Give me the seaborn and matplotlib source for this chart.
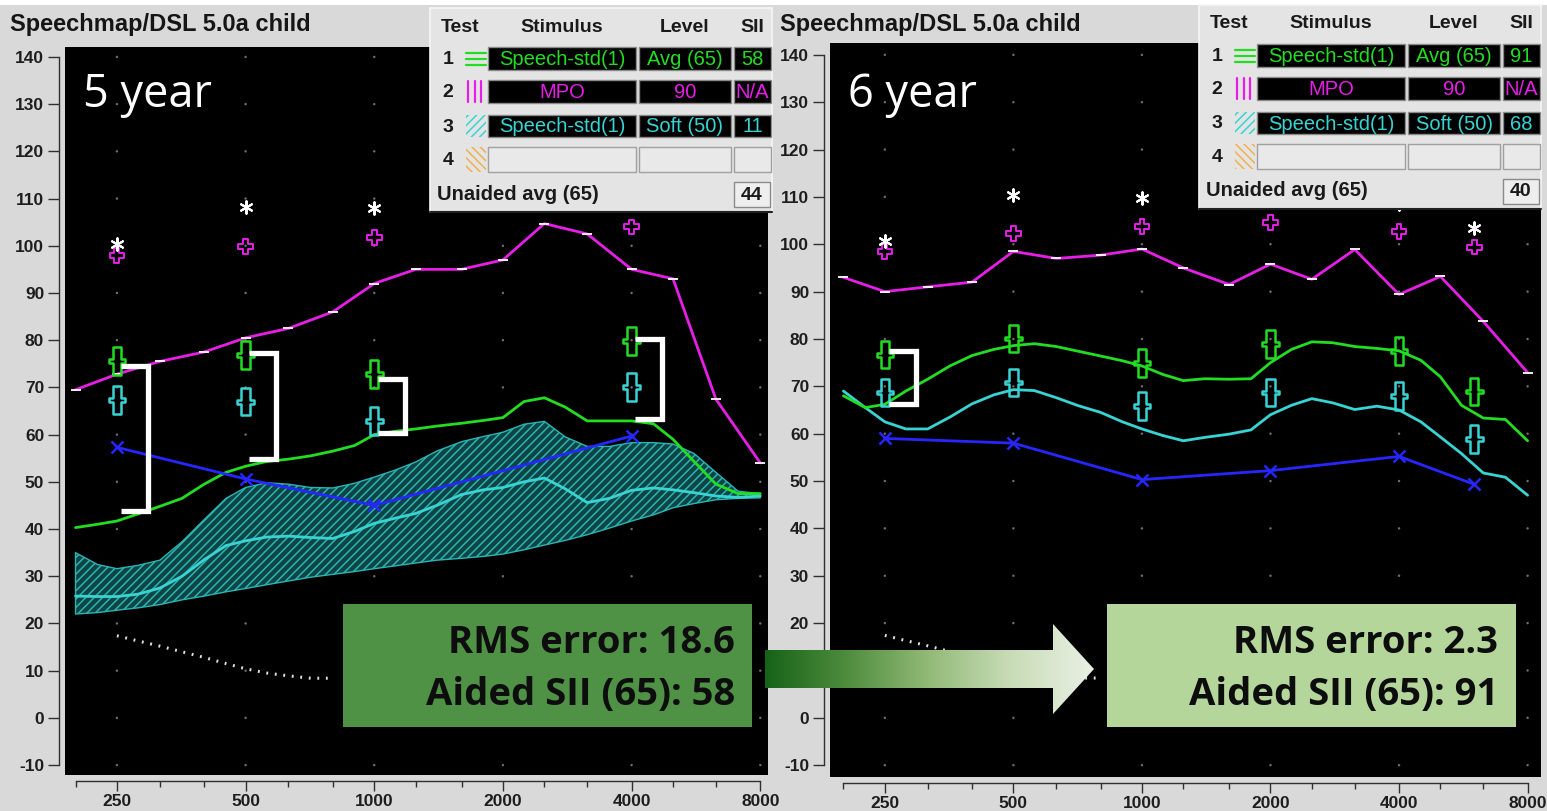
import numpy as np
import matplotlib
matplotlib.use("Agg")
import matplotlib.pyplot as plt
from matplotlib.path import Path
from matplotlib.patches import Rectangle, Polygon
from matplotlib.colors import LinearSegmentedColormap
from matplotlib.ticker import FixedLocator, FixedFormatter, NullFormatter
import seaborn as sns

# ---------------- frequency grids (Hz) ----------------
sixth_oct = [200, 225, 250, 280, 315, 355, 400, 450, 500, 560, 630, 710, 800, 900,
             1000, 1120, 1250, 1400, 1600, 1800, 2000, 2240, 2500, 2800, 3150, 3550,
             4000, 4500, 5000, 5600, 6300, 7100, 8000]
third_oct = [200, 250, 315, 400, 500, 630, 800, 1000, 1250, 1600, 2000, 2500, 3150,
             4000, 5000, 6300, 8000]
octave_ticks = [250, 500, 1000, 2000, 4000, 8000]
db_ticks = list(range(-10, 150, 10))

# ---------------- 5 year session (dB SPL) ----------------
mpo_5 = [69.5, 72.8, 75.5, 77.5, 80.5, 82.5, 86, 92, 95, 95, 97, 104.7, 102.5,
         95, 93, 67.5, 54]
aided65_5 = [40.3, 41, 41.7, 43.2, 44.8, 46.5, 49.5, 52, 53.3, 54.3, 54.8, 55.5, 56.5,
             57.7, 60, 60.7, 61.2, 61.8, 62.4, 63, 63.6, 67, 67.8, 65.8, 62.9, 62.9,
             62.9, 62.3, 59, 54.3, 49.5, 47.5, 47.5]
soft50_5 = [25.8, 25.7, 25.7, 26.2, 27.5, 30, 33.5, 36.5, 37.5, 38.3, 38.5, 38.2, 38,
            39.5, 41.2, 42.3, 43.3, 45, 47.3, 48.3, 48.8, 50, 50.8, 48.5, 45.6, 46.5,
            48.2, 48.7, 48.3, 47.7, 47, 46.7, 47]
soft50_hi_5 = [35, 32.5, 31.6, 32.3, 33.4, 37.3, 42, 46.5, 48.8, 49.8, 49.5, 48.8, 48.7,
               49.7, 51, 52.5, 54.2, 56.5, 58.5, 59.6, 60.5, 62.2, 62.8, 59.5, 57.5,
               57.5, 58.3, 58.3, 58, 56, 52, 48, 47.5]
soft50_lo_5 = [22, 22.3, 22.8, 23.3, 24, 25, 25.8, 26.7, 27.4, 28.2, 29, 29.8, 30.4,
               31, 31.6, 32.2, 32.8, 33.4, 33.8, 34.2, 34.7, 35.6, 36.6, 37.6, 38.8,
               40.2, 41.7, 43, 44.5, 45.4, 46.2, 46.5, 46.6]
thr_freq_5 = [250, 500, 1000, 4000]
thr_5 = [57.3, 50.6, 45, 59.7]
tgt_freq_5 = [250, 500, 1000, 4000]
tgt_avg_5 = [75.6, 76.9, 72.9, 79.9]
tgt_soft_5 = [67.4, 67.0, 62.9, 70.1]
tgt_mpo_5 = [97.9, 99.8, 101.7, 104.0]
ucl_freq_5 = [250, 500, 1000]
ucl_5 = [100.4, 108.3, 108.0]
gap_freq_5 = [250, 500, 1000, 4000]
gap_top_5 = [74.6, 77.3, 71.8, 80.3]
gap_bot_5 = [43.9, 54.9, 60.4, 63.3]

# ---------------- 6 year session (dB SPL) ----------------
mpo_6 = [93, 90, 91, 92, 98.5, 97, 97.7, 99, 95, 91.5, 95.8, 92.6, 98.9, 89.4,
         93.2, 83.7, 72.9]
aided65_6 = [68, 65.5, 66.2, 69, 71.5, 74.3, 76.5, 77.8, 78.6, 79, 78.4, 77.4, 76.4,
             75.4, 74.3, 72.5, 71.2, 71.6, 71.5, 71.6, 75, 77.8, 79.4, 79.2, 78.4, 78,
             77.5, 75.5, 72, 66, 63.3, 63, 58.5]
soft50_6 = [69, 65.5, 62.5, 61, 61, 63.5, 66.3, 68.2, 69.3, 69.1, 67.6, 65.9, 64.5,
            62.5, 61, 59.6, 58.5, 59.2, 59.9, 60.8, 64, 66, 67.4, 66.5, 65.1, 65.8,
            65, 62.5, 59.3, 55.8, 51.7, 50.8, 47]
thr_freq_6 = [250, 500, 1000, 2000, 4000, 6000]
thr_6 = [59, 58, 50.3, 52.2, 55.2, 49.3]
tgt_freq_6 = [250, 500, 1000, 2000, 4000, 6000]
tgt_avg_6 = [76.7, 80.1, 75.0, 78.9, 77.4, 68.9]
tgt_soft_6 = [68.7, 70.8, 65.8, 68.7, 67.9, 58.8]
tgt_mpo_6 = [98.5, 102.3, 103.8, 104.6, 102.7, 99.4]
ucl_freq_6 = [250, 500, 1000, 4000, 6000]
ucl_6 = [100.6, 110.4, 109.7, 108.6, 103.4]
gap_freq_6 = [250]
gap_top_6 = [77.4]
gap_bot_6 = [66.2]

# normal-hearing threshold curve
normal_freq = [250, 280, 315, 355, 400, 450, 500, 560, 630, 710, 800]
normal_thr = [17.4, 16.3, 15.2, 14.0, 12.8, 11.5, 10.4, 9.5, 8.9, 8.4, 8.4]

# ---------------- test table ----------------
test_no = ["1", "2", "3", "4"]
stimulus = ["Speech-std(1)", "MPO", "Speech-std(1)", ""]
levels = ["Avg (65)", "90", "Soft (50)", ""]
sii_5 = ["58", "N/A", "11", ""]
sii_6 = ["91", "N/A", "68", ""]
unaided_5 = "44"
unaided_6 = "40"
rms_5, rms_6 = 18.6, 2.3
aided_sii_5, aided_sii_6 = 58, 91
titles = ["5 year", "6 year"]

# ---------------- style ----------------
sns.set_theme(style="dark")
plt.rcParams["font.family"] = ["Liberation Sans", "DejaVu Sans"]
plt.rcParams["hatch.linewidth"] = 1.1

GREEN = "#22dd22"
CYAN = "#38d4d4"
MAGENTA = "#e61ee6"
BLUE = "#2626ff"
ROW_COLORS = [GREEN, MAGENTA, CYAN, "#f0b050"]

W, H = 1547, 811
fig = plt.figure(figsize=(W / 100, H / 100), dpi=100, facecolor="#d9d9d9")


def px_axes(l, r, t, b, **kw):
    return fig.add_axes([l / W, 1 - b / H, (r - l) / W, (b - t) / H], **kw)


# outlined tall cross used for the speech targets
_tv = [(-0.15, 0.5), (0.15, 0.5), (0.15, 0.07), (0.3, 0.07), (0.3, -0.07),
       (0.15, -0.07), (0.15, -0.5), (-0.15, -0.5), (-0.15, -0.07), (-0.3, -0.07),
       (-0.3, 0.07), (-0.15, 0.07), (-0.15, 0.5)]
target_marker = Path(_tv, [Path.MOVETO] + [Path.LINETO] * 11 + [Path.CLOSEPOLY])


def draw_panel(ax, xlim, ylim, d):
    ax.set_facecolor("black")
    ax.set_xscale("log")
    ax.grid(False)

    gx, gy = np.meshgrid(octave_ticks, db_ticks)
    sns.scatterplot(x=gx.ravel(), y=gy.ravel(), ax=ax, s=3, color="#707070",
                    edgecolor="none", linewidth=0, zorder=1, legend=False)

    if "band_hi" in d:
        ax.fill_between(sixth_oct, d["band_lo"], d["band_hi"], facecolor="#0f4444",
                        edgecolor="#2ab4b4", hatch="////", linewidth=1.0, zorder=2)

    sns.lineplot(x=normal_freq, y=normal_thr, ax=ax, color="#e2e2e2", lw=2.2,
                 linestyle=(0, (0.6, 2.2)), zorder=2)
    sns.lineplot(x=sixth_oct, y=d["soft"], ax=ax, color=CYAN, lw=2.0, zorder=3)
    sns.lineplot(x=sixth_oct, y=d["avg"], ax=ax, color=GREEN, lw=2.0, zorder=3)
    sns.lineplot(x=third_oct, y=d["mpo"], ax=ax, color=MAGENTA, lw=2.0, marker="_",
                 markersize=7, markeredgewidth=1.3, zorder=3)
    sns.lineplot(x=d["thr_f"], y=d["thr"], ax=ax, color=BLUE, lw=2.0, marker="x",
                 markersize=9, markeredgewidth=1.8, markeredgecolor=BLUE, zorder=4)

    sns.scatterplot(x=d["tgt_f"], y=d["tgt_avg"], ax=ax, marker=target_marker, s=400,
                    color=GREEN, facecolor="none", edgecolor=GREEN, linewidth=1.8,
                    zorder=5, legend=False)
    sns.scatterplot(x=d["tgt_f"], y=d["tgt_soft"], ax=ax, marker=target_marker, s=400,
                    color=CYAN, facecolor="none", edgecolor=CYAN, linewidth=1.8,
                    zorder=5, legend=False)
    sns.scatterplot(x=d["tgt_f"], y=d["tgt_mpo"], ax=ax, marker="P", s=110,
                    color=MAGENTA, facecolor="none", edgecolor=MAGENTA, linewidth=1.4,
                    zorder=5, legend=False)
    sns.scatterplot(x=d["ucl_f"], y=d["ucl"], ax=ax, marker=(6, 2, 0), s=80,
                    color="white", linewidth=1.5, zorder=5, legend=False)

    # brackets marking the gap between target and aided output
    for f, top, bot in zip(d["gap_f"], d["gap_top"], d["gap_bot"]):
        x0, x1 = f * 2 ** 0.03, f * 2 ** 0.24
        ax.plot([x0, x1, x1, x0], [top, top, bot, bot], color="white", lw=3.8,
                solid_joinstyle="miter", solid_capstyle="butt", zorder=6)

    ax.set_xlim(*xlim)
    ax.set_ylim(*ylim)
    ax.set_xlabel("")
    ax.set_ylabel("")

    ax.xaxis.set_major_locator(FixedLocator(octave_ticks))
    ax.xaxis.set_major_formatter(FixedFormatter([str(f) for f in octave_ticks]))
    ax.xaxis.set_minor_locator(FixedLocator([f for f in third_oct if f not in octave_ticks]))
    ax.xaxis.set_minor_formatter(NullFormatter())
    ax.yaxis.set_major_locator(FixedLocator(db_ticks))
    ax.yaxis.set_major_formatter(FixedFormatter([str(v) for v in db_ticks]))

    for side in ("top", "right"):
        ax.spines[side].set_visible(False)
    ax.spines["left"].set_position(("outward", 4))
    ax.spines["left"].set_bounds(-10, 140)
    ax.spines["bottom"].set_position(("outward", 4))
    ax.spines["bottom"].set_bounds(200, 8000)
    for side in ("left", "bottom"):
        ax.spines[side].set_visible(True)
        ax.spines[side].set_color("#303030")
        ax.spines[side].set_linewidth(1.0)

    ax.tick_params(axis="y", which="major", length=8, width=1, color="#303030",
                   pad=3, labelsize=12.5, labelcolor="#1e1e1e", left=True)
    ax.tick_params(axis="x", which="major", length=7, width=1, color="#303030",
                   pad=3, labelsize=12.5, labelcolor="#1e1e1e", bottom=True)
    ax.tick_params(axis="x", which="minor", length=4, width=1, color="#303030",
                   bottom=True)
    for lbl in ax.get_xticklabels() + ax.get_yticklabels():
        lbl.set_fontweight("bold")


panel_5 = dict(mpo=mpo_5, avg=aided65_5, soft=soft50_5, band_hi=soft50_hi_5,
               band_lo=soft50_lo_5, thr_f=thr_freq_5, thr=thr_5, tgt_f=tgt_freq_5,
               tgt_avg=tgt_avg_5, tgt_soft=tgt_soft_5, tgt_mpo=tgt_mpo_5,
               ucl_f=ucl_freq_5, ucl=ucl_5, gap_f=gap_freq_5, gap_top=gap_top_5,
               gap_bot=gap_bot_5)
panel_6 = dict(mpo=mpo_6, avg=aided65_6, soft=soft50_6, thr_f=thr_freq_6, thr=thr_6,
               tgt_f=tgt_freq_6, tgt_avg=tgt_avg_6, tgt_soft=tgt_soft_6,
               tgt_mpo=tgt_mpo_6, ucl_f=ucl_freq_6, ucl=ucl_6, gap_f=gap_freq_6,
               gap_top=gap_top_6, gap_bot=gap_bot_6)

ax5 = px_axes(65, 768, 47, 775)
draw_panel(ax5, (189, 8340), (-12.1, 142.1), panel_5)
ax6 = px_axes(830, 1541, 43, 777)
draw_panel(ax6, (186, 8600), (-12.5, 142.5), panel_6)

# ---------------- overlay in pixel coordinates ----------------
ov = fig.add_axes([0, 0, 1, 1], zorder=10)
ov.set_xlim(0, W)
ov.set_ylim(H, 0)
ov.axis("off")
ov.patch.set_visible(False)

ov.add_patch(Rectangle((0, 0), W, 5, fc="white", ec="none"))
for x0, label in ((10, "Speechmap/DSL 5.0a child"), (780, "Speechmap/DSL 5.0a child")):
    ov.text(x0, 31, label, fontsize=17, fontweight="bold", color="#151515",
            va="baseline", ha="left")


def draw_table(sx, oy, sii, unaided):
    # sx: left edge of the Stimulus column, oy: vertical offset
    ov.add_patch(Rectangle((sx - 58, oy + 8), 342, 204, fc="#e4e4e4",
                           ec="#f6f6f6", lw=1.2, zorder=1))
    ov.plot([sx - 58, sx + 284], [oy + 212, oy + 212], color="#202020", lw=1.5, zorder=2)
    cols = [(0, 148), (151, 243), (246, 283)]
    rows = [(47, 70), (80, 103), (115, 137), (147, 172)]
    hy = oy + 27
    ov.text(sx - 28, hy, "Test", fontsize=14, fontweight="bold", ha="center",
            va="center", color="#1a1a1a", zorder=3)
    for (c0, c1), h in zip(cols, ["Stimulus", "Level", "SII"]):
        ov.text(sx + (c0 + c1) / 2, hy, h, fontsize=14, fontweight="bold",
                ha="center", va="center", color="#1a1a1a", zorder=3)
    for i, (r0, r1) in enumerate(rows):
        y0, y1 = oy + r0, oy + r1
        yc = (y0 + y1) / 2
        col = ROW_COLORS[i]
        ov.text(sx - 40, yc + 1, test_no[i], fontsize=14, fontweight="bold",
                ha="center", va="center", color="#1a1a1a", zorder=3)
        ix0, ix1 = sx - 22, sx - 2
        if i == 0:
            for dy in (-6, 0, 6):
                ov.plot([ix0, ix1], [yc + dy, yc + dy], color=col, lw=1.6, zorder=3)
        elif i == 1:
            for dx in (2, 9, 15):
                ov.plot([ix0 + dx, ix0 + dx], [y0 + 1, y1 - 1], color=col, lw=1.6, zorder=3)
        else:
            ov.add_patch(Rectangle((ix0, y0), 20, y1 - y0, fc="none", ec=col, lw=0,
                                   hatch="////" if i == 2 else "\\\\\\\\", zorder=3))
        texts = [stimulus[i], levels[i], sii[i]]
        for (c0, c1), t in zip(cols, texts):
            if i < 3:
                ov.add_patch(Rectangle((sx + c0, y0), c1 - c0, y1 - y0, fc="black",
                                       ec="#8a8a8a", lw=1, zorder=2))
                ov.text(sx + (c0 + c1) / 2, yc + 1, t, fontsize=14.5, ha="center",
                        va="center", color=col, zorder=3)
            else:
                ov.add_patch(Rectangle((sx + c0, y0), c1 - c0, y1 - y0, fc="#e9e9e9",
                                       ec="#a0a0a0", lw=1, zorder=2))
    ov.text(sx - 51, oy + 194, "Unaided avg (65)", fontsize=14.5, fontweight="bold",
            ha="left", va="center", color="#1a1a1a", zorder=3)
    ov.add_patch(Rectangle((sx + 246, oy + 182), 36, 25, fc="#eeeeee", ec="#8a8a8a",
                           lw=1, zorder=2))
    ov.text(sx + 264, oy + 195, unaided, fontsize=14, fontweight="bold", ha="center",
            va="center", color="#1a1a1a", zorder=3)


draw_table(488, 0, sii_5, unaided_5)
draw_table(1257, -3, sii_6, unaided_6)

for x0, t in zip((83, 848), titles):
    ov.text(x0, 107, t, fontsize=32.5, family=["Open Sans", "DejaVu Sans"],
            color="white", ha="left", va="baseline", zorder=4)

# result boxes
boxes = [((343, 752), "#4f9246", rms_5, aided_sii_5, 735),
         ((1107, 1516), "#b4d69b", rms_6, aided_sii_6, 1498)]
for (bx0, bx1), fc, rms, sii, tx in boxes:
    ov.add_patch(Rectangle((bx0, 604), bx1 - bx0, 123, fc=fc, ec="none", zorder=5))
    ov.text(tx, 653, f"RMS error: {rms}", fontsize=27.5, fontweight="bold",
            family=["Open Sans", "DejaVu Sans"], ha="right", va="baseline",
            color="#0d0d0d", zorder=6)
    ov.text(tx, 705, f"Aided SII (65): {sii}", fontsize=27.5, fontweight="bold",
            family=["Open Sans", "DejaVu Sans"], ha="right", va="baseline",
            color="#0d0d0d", zorder=6)

# gradient arrow between the two sessions
arrow_pts = [(765, 650), (1053, 650), (1053, 624), (1094, 669), (1053, 714),
             (1053, 688), (765, 688)]
arrow = Polygon(arrow_pts, closed=True, fc="none", ec="none", zorder=7)
ov.add_patch(arrow)
cmap = LinearSegmentedColormap.from_list(
    "grn", ["#166318", "#4f8d3e", "#93ba78", "#c9dcb8", "#eaf1e4"])
grad = np.linspace(0, 1, 256).reshape(1, -1)
im = ov.imshow(grad, extent=(765, 1094, 714, 624), cmap=cmap, aspect="auto",
               zorder=7, interpolation="bilinear")
im.set_clip_path(arrow)
ov.set_xlim(0, W)
ov.set_ylim(H, 0)

fig.savefig("out.png", dpi=100, facecolor=fig.get_facecolor())
